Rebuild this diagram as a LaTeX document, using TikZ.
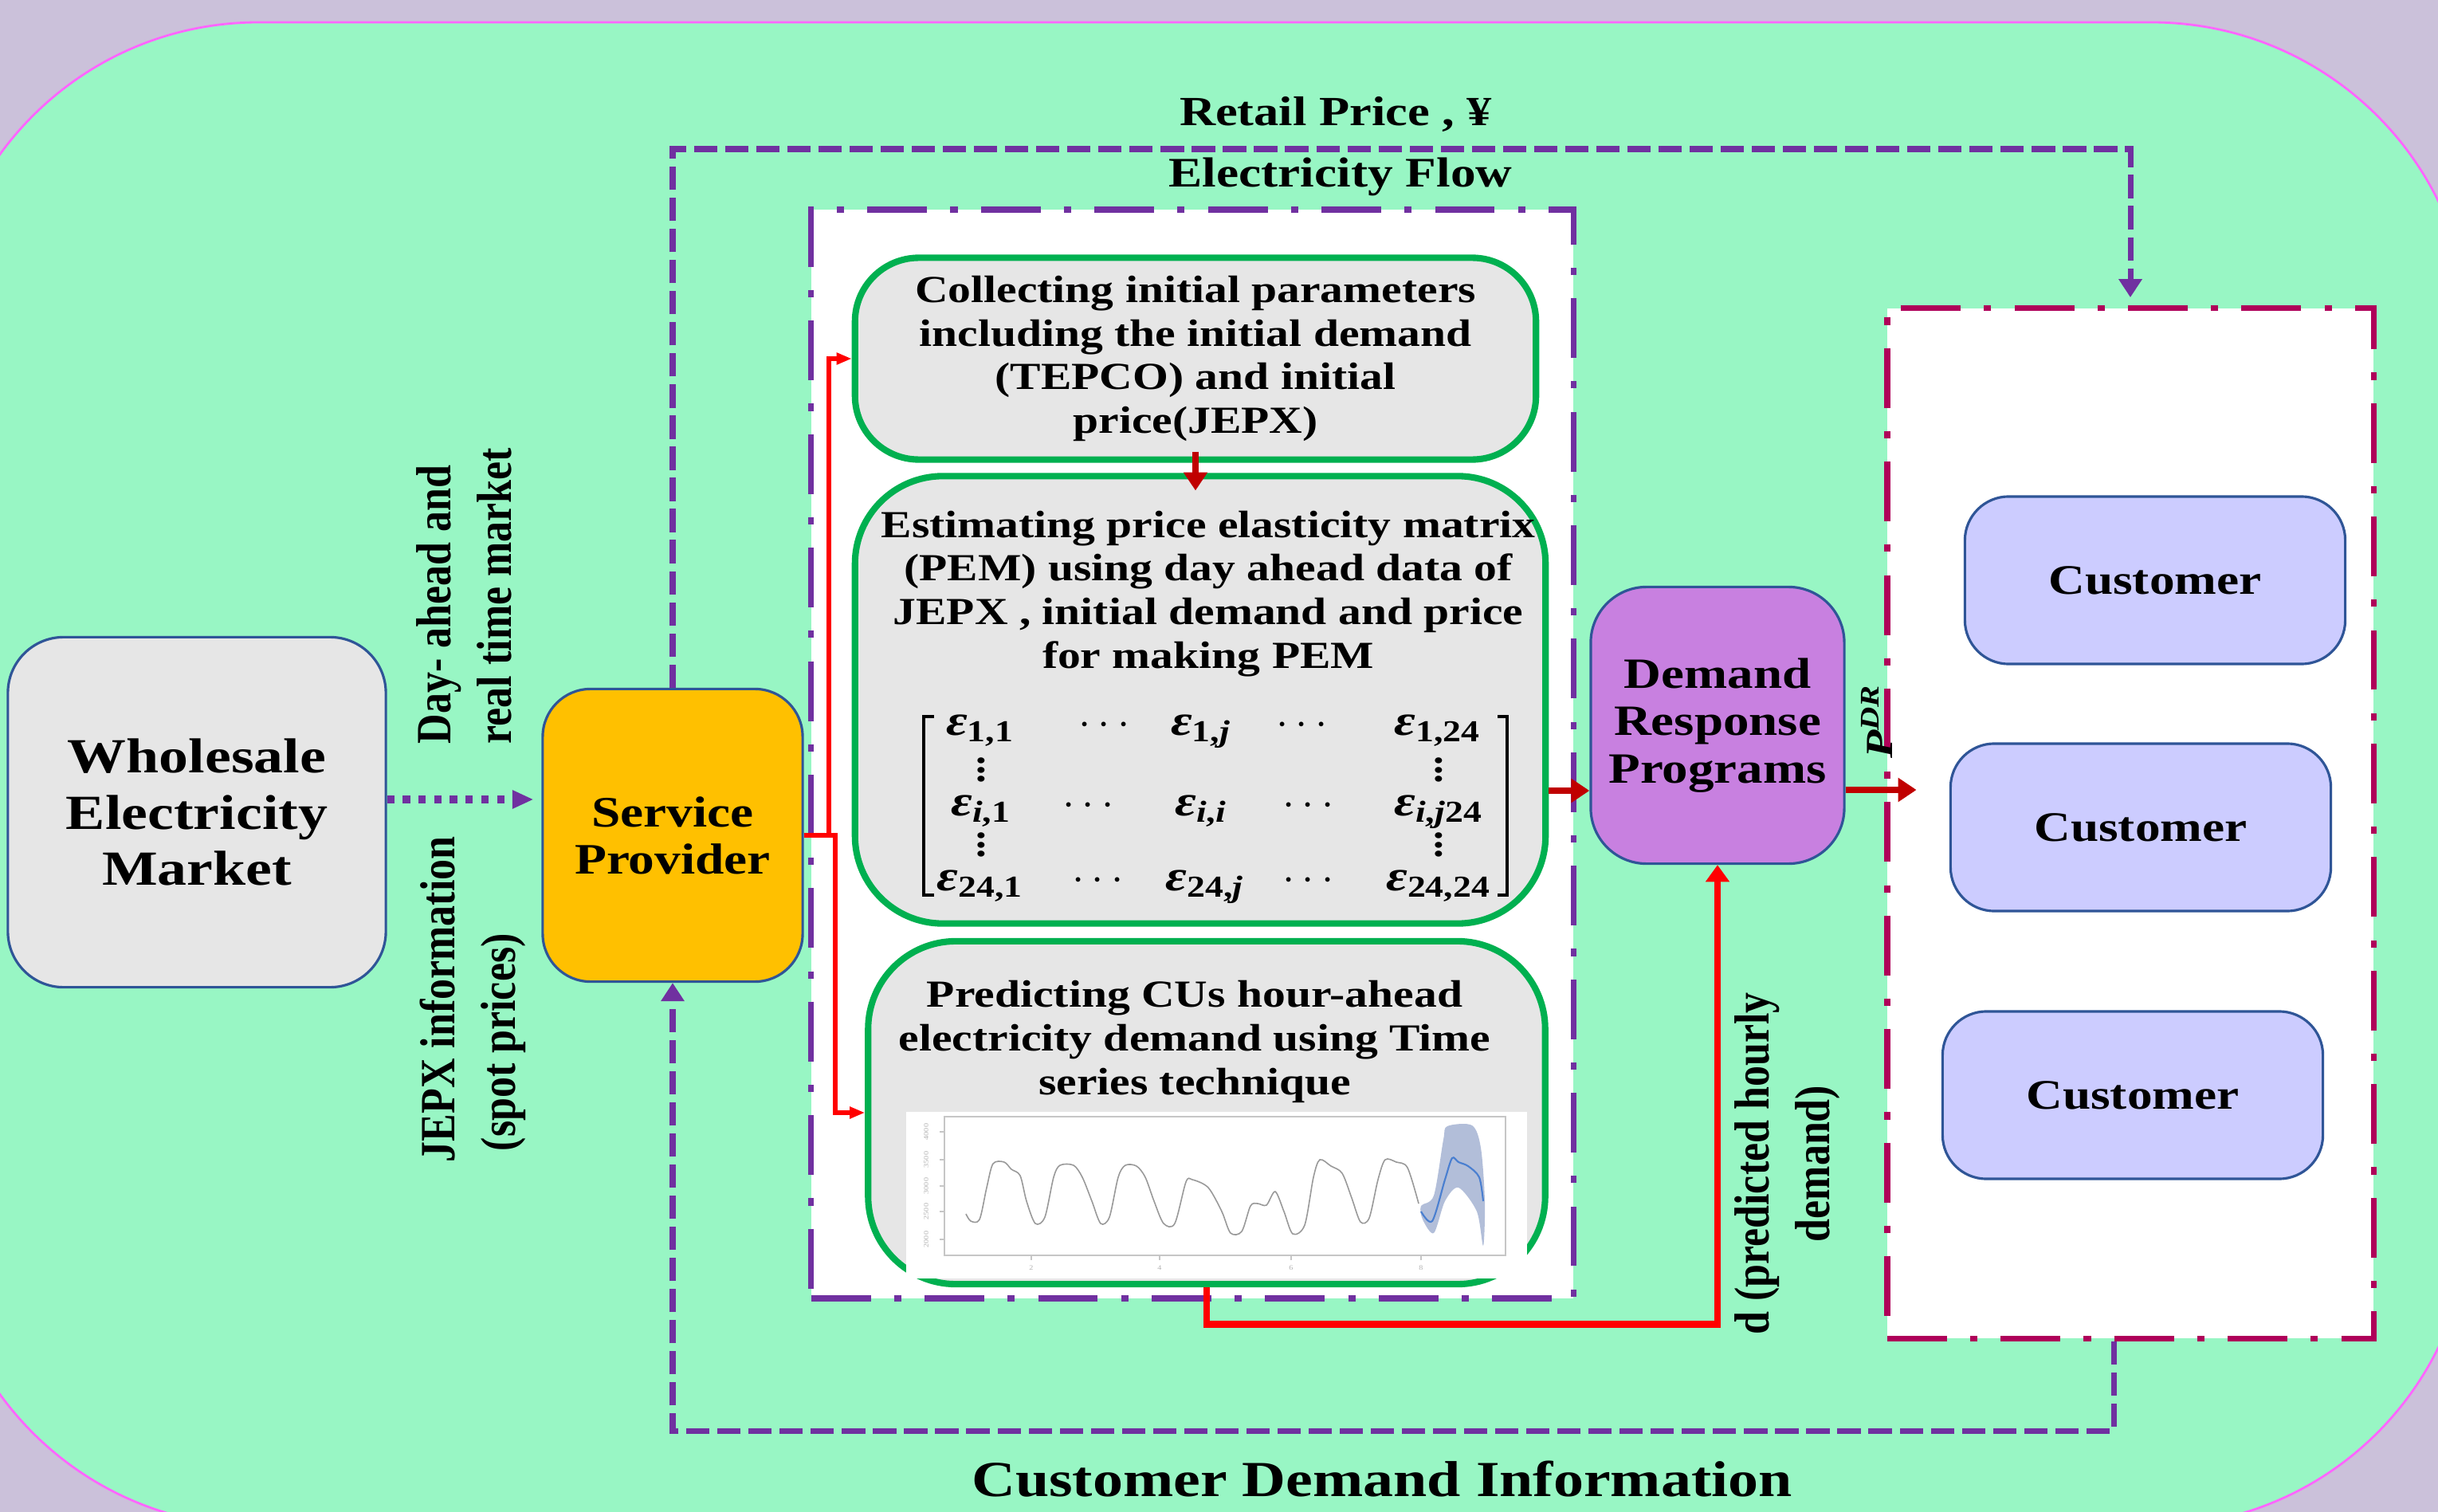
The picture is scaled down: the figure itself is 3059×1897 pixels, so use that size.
\documentclass[tikz,border=0pt]{standalone}
\usepackage{fix-cm}
\usepackage{amsmath}
\usepackage{fontspec}
\setmainfont{Liberation Serif}[FakeStretch=1.2]
\newfontfamily\tallrm{Liberation Serif}[FakeStretch=0.84]
\usetikzlibrary{arrows.meta}
\definecolor{lav}{HTML}{CBC1DA}
\definecolor{mint}{HTML}{98F6C4}
\definecolor{pinkln}{HTML}{FF66FF}
\definecolor{purp}{HTML}{7030A0}
\definecolor{mag}{HTML}{AF0059}
\definecolor{grn}{HTML}{00B050}
\definecolor{lgray}{HTML}{E6E6E6}
\definecolor{bblue}{HTML}{2F5597}
\definecolor{spgold}{HTML}{FFC000}
\definecolor{orchid}{HTML}{C880E0}
\definecolor{peri}{HTML}{CCCCFF}
\definecolor{dred}{HTML}{C00000}
\definecolor{band}{HTML}{7F93C0}
\definecolor{fcast}{HTML}{4A7FD0}
\newcommand\ep[1]{\textit{ε}\textsubscript{#1}}
\newcommand\sbi{\textit{i}}
\newcommand\sbj{\textit{j}}
\newcommand\vdts{\vbox{\baselineskip=3.3pt\lineskiplimit=-5pt\hbox{.}\hbox{.}\hbox{.}}}
\begin{document}
\begin{tikzpicture}[x=0.01cm,y=-0.01cm,
  rbox/.style={draw=bblue,line width=0.9pt,rounded corners=0.7cm,align=center,inner sep=2pt},
  gbox/.style={draw=grn,line width=2.3pt,fill=lgray,rounded corners=1.1cm},
  dframe/.style={line width=2.1pt,fill=white,dash pattern=on 21.3pt off 8.3pt on 2.6pt off 8.3pt},
  flow/.style={draw=purp,line width=2pt,dash pattern=on 8.3pt off 2.8pt,-{Triangle[width=8pt,length=6.5pt]}},
  rline/.style={draw=red,line width=1.6pt,-{Triangle[width=4pt,length=5.4pt]}},
  rbold/.style={draw=red,line width=2.5pt,-{Triangle[width=8.2pt,length=6pt]}},
  darr/.style={draw=dred,line width=2.3pt,-{Triangle[width=8.2pt,length=6.5pt]}},
  lbl/.style={inner sep=0pt,anchor=base,font=\fontsize{15}{17}\selectfont\bfseries},
  vlbl/.style={rotate=90,inner sep=0pt,font=\tallrm\fontsize{17.6}{21.6}\selectfont\bfseries},
  txt/.style={align=center,inner sep=0pt,font=\fontsize{13.65}{15.6}\selectfont\bfseries},
  ent/.style={anchor=base,inner sep=0pt,font=\fontsize{15.5}{17}\selectfont\bfseries},
  tick/.style={inner sep=0pt,text=gray!60,font=\fontsize{2.4}{3}\selectfont}]
\useasboundingbox (0,0) rectangle (3059,1897);
\clip (0,0) rectangle (3059,1897);
\fill[lav] (0,0) rectangle (3059,1897);
\draw[pinkln,line width=0.8pt,fill=mint,rounded corners=4cm] (-76,28) rectangle (3100,1915);
% frames
\node[dframe,draw=purp,minimum width=9.56cm,minimum height=13.65cm] (proc) at (1496,946) {};
\node[dframe,draw=mag,minimum width=6.1cm,minimum height=12.92cm] (cust) at (2673,1033) {};
% blocks
\node[rbox,fill=lgray,minimum width=4.74cm,minimum height=4.39cm,font=\fontsize{17.5}{20}\selectfont\bfseries] (wem) at (247,1019) {Wholesale\\Electricity\\Market};
\node[rbox,fill=spgold,rounded corners=0.6cm,minimum width=3.26cm,minimum height=3.67cm,font=\fontsize{15.5}{16.8}\selectfont\bfseries] (sp) at (844,1048) {Service\\Provider};
\node[rbox,fill=orchid,minimum width=3.18cm,minimum height=3.47cm,font=\fontsize{15.4}{17}\selectfont\bfseries] (drp) at (2155,910) {Demand\\Response\\Programs};
\foreach \cx/\cy [count=\k] in {2704/728,2686/1038,2676/1374}
  \node[rbox,fill=peri,rounded corners=0.55cm,minimum width=4.77cm,minimum height=2.1cm,font=\fontsize{15}{17}\selectfont\bfseries] (cu\k) at (\cx,\cy) {Customer};
\node[gbox,txt,minimum width=8.54cm,minimum height=2.53cm,rounded corners=0.8cm] (b1) at (1500,450) {Collecting initial parameters\\including the initial demand\\(TEPCO) and initial\\price(JEPX)};
\node[gbox,minimum width=8.66cm,minimum height=5.61cm] (b2) at (1506,878) {};
\node[gbox,minimum width=8.49cm,minimum height=4.3cm] (b3) at (1514,1396) {};
\node[txt] (pemtxt) at (1516,745) {Estimating price elasticity matrix\\(PEM) using day ahead data of\\JEPX , initial demand and price\\for making PEM};
\node[txt] (predtxt) at (1499,1307) {Predicting CUs hour-ahead\\electricity demand using Time\\series technique};
% matrix
\foreach \mx/\my/\me [count=\k] in {1230/922/{\ep{1,1}},1390/922/{$\cdots$},1507/922/{\ep{1,\sbj}},1638/922/{$\cdots$},1804/922/{\ep{1,24}},
  1231/1023/{\ep{\sbi,1}},1370/1023/{$\cdots$},1507/1023/{\ep{\sbi,\sbi}},1646/1023/{$\cdots$},1805/1023/{\ep{\sbi,\sbj24}},
  1230/1117/{\ep{24,1}},1382/1117/{$\cdots$},1512/1117/{\ep{24,\sbj}},1646/1117/{$\cdots$},1805/1117/{\ep{24,24}}}
  \node[ent] (e\k) at (\mx,\my) {\me};
\foreach \mx/\my [count=\k] in {1231/966,1231/1060,1805/966,1805/1060}
  \node[inner sep=0pt,font=\fontsize{13}{13}\selectfont\bfseries] (vd\k) at (\mx,\my) {\vdts};
\draw[line width=1.1pt] (1172,899) -- (1159,899) -- (1159,1123) -- (1172,1123);
\draw[line width=1.1pt] (1879,899) -- (1891,899) -- (1891,1123) -- (1879,1123);
% chart
\fill[white] (1137,1395) rectangle (1916,1604);
\draw[gray!45,line width=0.4pt] (1185,1401) rectangle (1889,1575);
\foreach \ty/\tl in {1420/4000,1455/3500,1488/3000,1520/2500,1555/2000}{
  \draw[gray!45,line width=0.3pt] (1179,\ty) -- (1185,\ty);
  \node[tick,rotate=90] at (1162,\ty) {\tl};}
\foreach \tx/\tl in {1294/2,1455/4,1620/6,1783/8}{
  \draw[gray!45,line width=0.3pt] (\tx,1575) -- (\tx,1581);
  \node[tick] at (\tx,1591) {\tl};}
\fill[band,opacity=0.6] plot[smooth cycle] coordinates {(1783,1513) (1799,1500) (1811,1430) (1816,1413) (1847,1412) (1858,1440) (1863,1507) (1861,1563) (1853,1520) (1830,1490) (1813,1507) (1799,1547) (1785,1530)};
\draw[gray!80,line width=0.45pt] plot[smooth] coordinates {(1212,1523) (1218,1532) (1229,1530) (1238,1490) (1246,1460) (1260,1458) (1269,1467) (1280,1475) (1288,1507) (1299,1535) (1311,1527) (1322,1477) (1330,1462) (1347,1462) (1358,1477) (1370,1507) (1381,1535) (1392,1527) (1403,1477) (1412,1462) (1426,1463) (1437,1477) (1448,1507) (1460,1535) (1474,1535) (1488,1483) (1496,1480) (1516,1490) (1533,1520) (1544,1547) (1558,1545) (1569,1513) (1578,1510) (1589,1512) (1600,1495) (1611,1520) (1622,1548) (1637,1537) (1648,1477) (1656,1455) (1670,1463) (1684,1472) (1696,1503) (1707,1533) (1718,1528) (1729,1480) (1738,1455) (1752,1458) (1766,1465) (1780,1510)};
\draw[fcast,line width=0.6pt] plot[smooth] coordinates {(1783,1520) (1797,1532) (1813,1480) (1822,1453) (1830,1458) (1842,1463) (1856,1477) (1861,1507)};
% connectors
\draw[purp,line width=2.7pt,dash pattern=on 2.6pt off 3pt,-{Triangle[width=6.2pt,length=7.6pt]},shorten >=2.8pt] (wem.east |- 0,1003) -- (sp.west |- 0,1003);
\draw[flow,shorten >=2.8pt] (sp.north) -- (sp.north |- 0,187) -| (cust.north);
\draw[flow] (cust.south -| 2652,0) -- ++(0,112) -| (sp.south);
\coordinate (spj) at (1040,1048);
\draw[rline] (sp.east) -- (sp.east -| 1048,0) |- (b3.west);
\draw[rline] (spj) |- (b1.west);
\draw[rbold] (b3.south) -- ++(0,46) -| (drp.south);
\draw[darr,shorten <=-4pt,shorten >=-6.3pt] (b1.south) -- (b1.south |- b2.north);
\draw[darr] (b2.east |- 0,992) -- (drp.west |- 0,992);
\draw[darr,shorten >=-11.5pt] (drp.east |- 0,991) -- (cust.west |- 0,991);
% labels
\node[lbl,font=\fontsize{14.8}{17}\selectfont\bfseries] (rp) at (1676,158) {Retail Price , ¥};
\node[lbl] (ef) at (1682,235) {Electricity Flow};
\node[lbl,font=\fontsize{18}{20}\selectfont\bfseries] (cdi) at (1734,1877) {Customer Demand Information};
\node[vlbl,anchor=west,align=left] (dal) at (582,934) {Day- ahead and\\real time market};
\node[vlbl,anchor=west,align=left] (jepx) at (593,1459) {JEPX information\\\hspace*{4pt}(spot prices)};
\node[vlbl,align=center] (dlbl) at (2243,1460) {d (predicted hourly\\demand)};
\node[rotate=90,inner sep=0pt,font=\fontsize{13.7}{15}\selectfont\bfseries\itshape] (pdr) at (2355,905) {P\textsuperscript{DR}};
\end{tikzpicture}
\end{document}
